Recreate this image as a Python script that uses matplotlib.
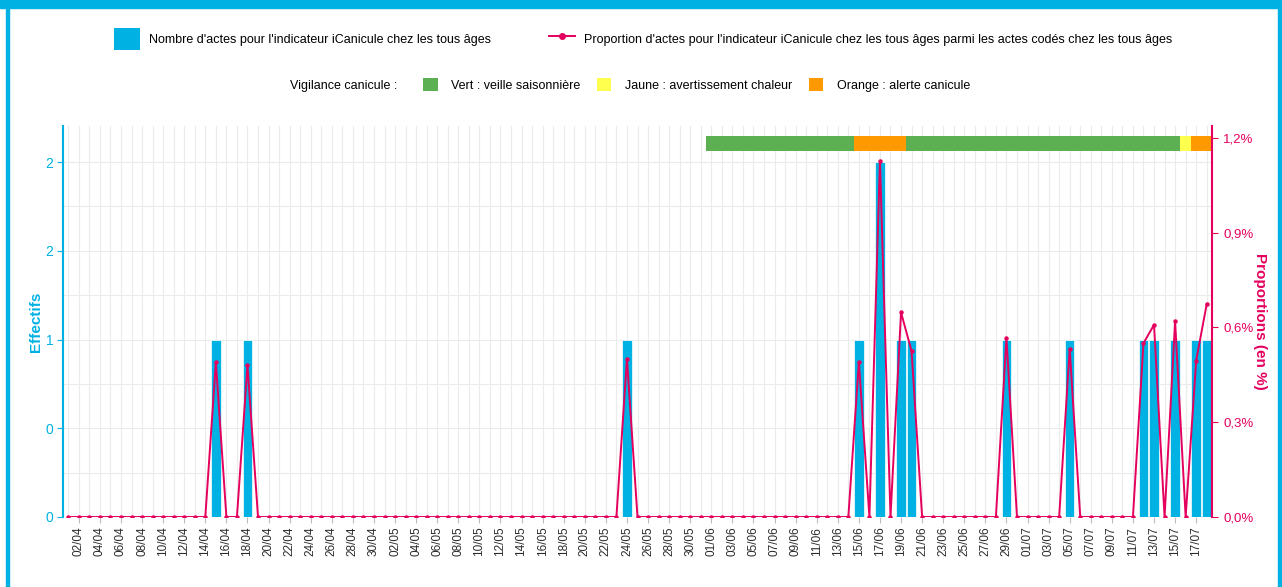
import numpy as np
import pandas as pd
import matplotlib
matplotlib.use("Agg")
import matplotlib.pyplot as plt
from matplotlib.patches import Patch, Rectangle
from matplotlib.lines import Line2D

plt.rcParams['font.family'] = ['Liberation Sans', 'DejaVu Sans']

# Données
jours = pd.date_range("2024-04-01", "2024-07-18", freq="D")
etiquettes = [d.strftime("%d/%m") for d in jours]

# jours avec des actes (le reste vaut 0)
dates_actes = ["15/04", "18/04", "24/05", "15/06", "17/06", "19/06", "20/06",
               "29/06", "05/07", "12/07", "13/07", "15/07", "17/07", "18/07"]
nb_actes = [1, 1, 1, 1, 2, 1, 1, 1, 1, 1, 1, 1, 1, 1]
prop_actes = [0.49, 0.48, 0.50, 0.49, 1.127, 0.647, 0.525,
              0.567, 0.532, 0.55, 0.608, 0.619, 0.495, 0.674]

# vigilance canicule : (début, fin, niveau)
vig_debut = ["01/06", "15/06", "20/06", "16/07", "17/07"]
vig_fin = ["14/06", "19/06", "15/07", "16/07", "18/07"]
vig_niveau = ["Vert", "Orange", "Vert", "Jaune", "Orange"]

couleurs_vig = {"Vert": "#5cb052", "Jaune": "#ffff4d", "Orange": "#ff9900"}
libelles_vig = {"Vert": "Vert : veille saisonnière",
                "Jaune": "Jaune : avertissement chaleur",
                "Orange": "Orange : alerte canicule"}

BLEU = "#00b1e4"
ROSE = "#e5005e"

n = len(jours)
x = np.arange(n)
effectifs = np.zeros(n)
proportions = np.zeros(n)
for d, v, p in zip(dates_actes, nb_actes, prop_actes):
    i = etiquettes.index(d)
    effectifs[i] = v
    proportions[i] = p

W, H = 1282, 587
fig = plt.figure(figsize=(W / 100, H / 100), dpi=100)

# cadre bleu
fig.patches.append(Rectangle((0, 1 - 8 / H), 1, 8 / H, transform=fig.transFigure,
                             color=BLEU, zorder=0))
fig.patches.append(Rectangle((6 / W, 0), 2.5 / W, 1, transform=fig.transFigure,
                             color=BLEU, zorder=0))
fig.patches.append(Rectangle((1278 / W, 0), 2.5 / W, 1, transform=fig.transFigure,
                             color=BLEU, zorder=0))

ax = fig.add_axes([63 / W, (H - 517) / H, (1212 - 63) / W, (517 - 126) / H])
ax2 = ax.twinx()

ax.bar(x, effectifs, width=0.9, color=BLEU, edgecolor="white", linewidth=0.5, zorder=2)

# bandeau de vigilance
for deb, fin, niv in zip(vig_debut, vig_fin, vig_niveau):
    i0 = etiquettes.index(deb)
    i1 = etiquettes.index(fin)
    ax.broken_barh([(i0 - 0.5, i1 - i0 + 1)], (2.062, 0.085),
                   facecolor=couleurs_vig[niv], edgecolor="none", zorder=3)

ax2.plot(x, proportions, color=ROSE, lw=1.4, marker="o", markersize=2.2, zorder=4)

ax.set_xlim(-0.5, n - 0.5)
ax.set_ylim(0, 2.203)
ax2.set_ylim(0, 1.237)

ax.set_xticks(x[1::2])
ax.set_xticklabels(etiquettes[1::2], rotation=90, fontsize=8.5, color="#2b2b2b")
ax.set_xticks(x, minor=True)
ax.set_yticks([0, 0.5, 1, 1.5, 2])
ax.set_yticklabels(["0", "0", "1", "2", "2"], fontsize=10, color=BLEU)
ax.set_yticks(np.arange(0.25, 2.2, 0.5), minor=True)
ax.grid(True, which="both", color="#ebebeb", lw=0.8, zorder=0)
ax.set_axisbelow(True)
ax.tick_params(axis="x", which="major", length=4, color="#bbbbbb", pad=3)
ax.tick_params(axis="x", which="minor", length=0)
ax.tick_params(axis="y", which="major", length=4, color=BLEU, pad=3)
ax.tick_params(axis="y", which="minor", length=0)

ax2.set_yticks([0, 0.3, 0.6, 0.9, 1.2])
ax2.set_yticklabels(["0,0%", "0,3%", "0,6%", "0,9%", "1,2%"], fontsize=9.5, color=ROSE)
ax2.tick_params(axis="y", length=4, color=ROSE, pad=4)

for a in (ax, ax2):
    a.spines["top"].set_visible(False)
    a.spines["bottom"].set_visible(False)
ax.spines["right"].set_visible(False)
ax.spines["left"].set_color(BLEU)
ax.spines["left"].set_linewidth(1.5)
ax2.spines["left"].set_visible(False)
ax2.spines["right"].set_color(ROSE)
ax2.spines["right"].set_linewidth(1.5)

ax.set_ylabel("Effectifs", color=BLEU, fontsize=11, fontweight="bold", labelpad=2)
ax2.set_ylabel("Proportions (en %)", color=ROSE, fontsize=11, fontweight="bold",
               rotation=270, labelpad=10)

# légende 1
h1 = [Patch(facecolor=BLEU, edgecolor="none"),
      Line2D([], [], color=ROSE, lw=1.4, marker="o", markersize=4)]
l1 = ["Nombre d'actes pour l'indicateur iCanicule chez les tous âges",
      "Proportion d'actes pour l'indicateur iCanicule chez les tous âges parmi les actes codés chez les tous âges"]
fig.legend(h1, l1, loc="center", bbox_to_anchor=(643 / W, 1 - 39 / H), ncol=2,
           frameon=False, fontsize=9, handlelength=2.1, handleheight=2.3,
           handletextpad=0.7, columnspacing=4.6)

# légende 2
h2 = [Patch(facecolor=couleurs_vig[k], edgecolor="none") for k in ["Vert", "Jaune", "Orange"]]
l2 = [libelles_vig[k] for k in ["Vert", "Jaune", "Orange"]]
fig.legend(h2, l2, loc="center left", bbox_to_anchor=(412 / W, 1 - 85 / H), ncol=3,
           frameon=False, fontsize=9, handlelength=1.15, handleheight=1.2,
           handletextpad=1.1, columnspacing=1.3)
fig.text(290 / W, 1 - 89 / H, "Vigilance canicule :", fontsize=9, va="baseline", ha="left")

fig.savefig("out.png", dpi=100)
